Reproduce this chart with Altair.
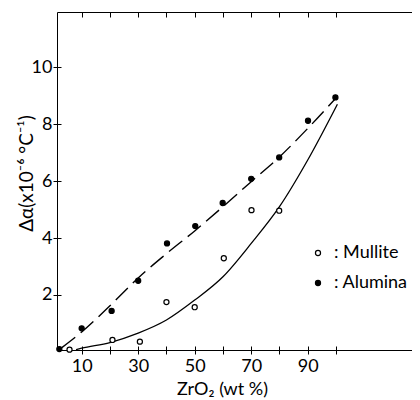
import altair as alt
import pandas as pd

# ---- data ----
alumina_x = [2.1, 10, 20.6, 30, 40.2, 50.2, 59.9, 70, 79.9, 90.1, 99.8]
alumina_y = [0.1, 0.83, 1.44, 2.5, 3.81, 4.42, 5.23, 6.08, 6.83, 8.12, 8.94]
mullite_x = [5.7, 20.9, 30.6, 40, 50, 60.3, 70.1, 79.9]
mullite_y = [0.08, 0.42, 0.36, 1.75, 1.57, 3.29, 4.98, 4.96]

# hand-drawn fit curves
alumina_fit_x = [3, 10, 20, 30, 40, 50, 60, 70, 80, 90, 100]
alumina_fit_y = [0.15, 0.7, 1.62, 2.6, 3.45, 4.25, 5.1, 5.98, 6.85, 7.85, 8.92]
mullite_fit_x = [8, 10, 20, 30, 40, 50, 60, 70, 80, 90, 100.5]
mullite_fit_y = [0.08, 0.13, 0.33, 0.66, 1.12, 1.82, 2.64, 3.81, 5.1, 6.74, 8.7]

series_names = ["Mullite", "Alumina"]
x_ticks = [10, 20, 30, 40, 50, 60, 70, 80, 90, 100]
y_ticks = [2, 4, 6, 8, 10]

FONT = "Lato"
FS = 18

pts = pd.DataFrame({
    "x": mullite_x + alumina_x,
    "y": mullite_y + alumina_y,
    "series": ["Mullite"] * len(mullite_x) + ["Alumina"] * len(alumina_x),
})
al_fit = pd.DataFrame({"x": alumina_fit_x, "y": alumina_fit_y})
mu_fit = pd.DataFrame({"x": mullite_fit_x, "y": mullite_fit_y})

xs = alt.Scale(domain=[1.27, 126.9], nice=False, zero=False)
ys = alt.Scale(domain=[0.067, 11.94], nice=False, zero=False)

common = dict(grid=False, domainColor="black", domainWidth=1,
              tickColor="black", tickWidth=1,
              labelColor="black", labelFont=FONT,
              titleFont=FONT, titleFontWeight="normal",
              titleColor="black")

x_main = alt.Axis(orient="bottom", values=x_ticks, tickSize=4, labelPadding=3,
                  domain=True, labelFontSize=FS,
                  labelExpr="datum.value % 20 == 10 ? datum.label : ''",
                  title="ZrO₂ (wt %)", titleX=165, titleY=39, titleFontSize=18,
                  titleBaseline="middle", titleAlign="center", **common)
y_main = alt.Axis(orient="left", values=y_ticks, tickSize=4, labelPadding=1,
                  domain=True, labelFontSize=FS,
                  title="Δα(x10⁻⁶ °C⁻¹)", titleX=-31, titleY=161, titleFontSize=19,
                  titleBaseline="middle", titleAlign="center", **common)
x_in_bottom = alt.Axis(orient="bottom", values=x_ticks, tickSize=4, offset=-4,
                       domain=False, labels=False, title=None, **common)
y_in_left = alt.Axis(orient="left", values=y_ticks, tickSize=4, offset=-4,
                     domain=False, labels=False, title=None, **common)
x_in_top = alt.Axis(orient="top", values=x_ticks, tickSize=5, offset=-5,
                    domain=False, labels=False, title=None, **common)
x_top_line = alt.Axis(orient="top", domain=True, ticks=False, labels=False,
                      title=None, **common)

points = alt.Chart(pts).mark_point(
    shape="circle", size=26, stroke="black", strokeWidth=1.2, opacity=1, clip=False
).encode(
    x=alt.X("x:Q", scale=xs, axis=x_main),
    y=alt.Y("y:Q", scale=ys, axis=y_main),
    fill=alt.Fill("series:N",
                  scale=alt.Scale(domain=series_names, range=["white", "black"]),
                  legend=alt.Legend(orient="none", legendX=252, legendY=232,
                                    title=None, padding=0,
                                    labelExpr="': ' + datum.label",
                                    labelFont=FONT, labelFontSize=FS,
                                    labelColor="black", labelOffset=7,
                                    symbolType="circle", symbolSize=26,
                                    symbolStrokeColor="black",
                                    symbolStrokeWidth=1.2, rowPadding=12)),
)

mu_line = alt.Chart(mu_fit).mark_line(
    interpolate="monotone", color="black", strokeWidth=1.3
).encode(
    x=alt.X("x:Q", scale=xs, axis=x_in_bottom),
    y=alt.Y("y:Q", scale=ys, axis=y_in_left),
)

al_line = alt.Chart(al_fit).mark_line(
    interpolate="monotone", color="black", strokeWidth=1.4, strokeDash=[17, 7]
).encode(
    x=alt.X("x:Q", scale=xs, axis=x_in_top),
    y=alt.Y("y:Q", scale=ys, axis=None),
)

frame_top = alt.Chart(mu_fit).mark_line(opacity=0).encode(
    x=alt.X("x:Q", scale=xs, axis=x_top_line),
    y=alt.Y("y:Q", scale=ys, axis=None),
)

chart = alt.layer(frame_top, al_line, mu_line, points).resolve_axis(
    x="independent", y="independent"
).properties(
    width=355, height=338,
    autosize=alt.AutoSizeParams(type="none"),
    padding={"left": 49, "top": 4, "right": 0, "bottom": 50},
    background="white",
).configure_view(stroke=None)

chart.save("out.html", embed_options={"renderer": "svg", "actions": False})
